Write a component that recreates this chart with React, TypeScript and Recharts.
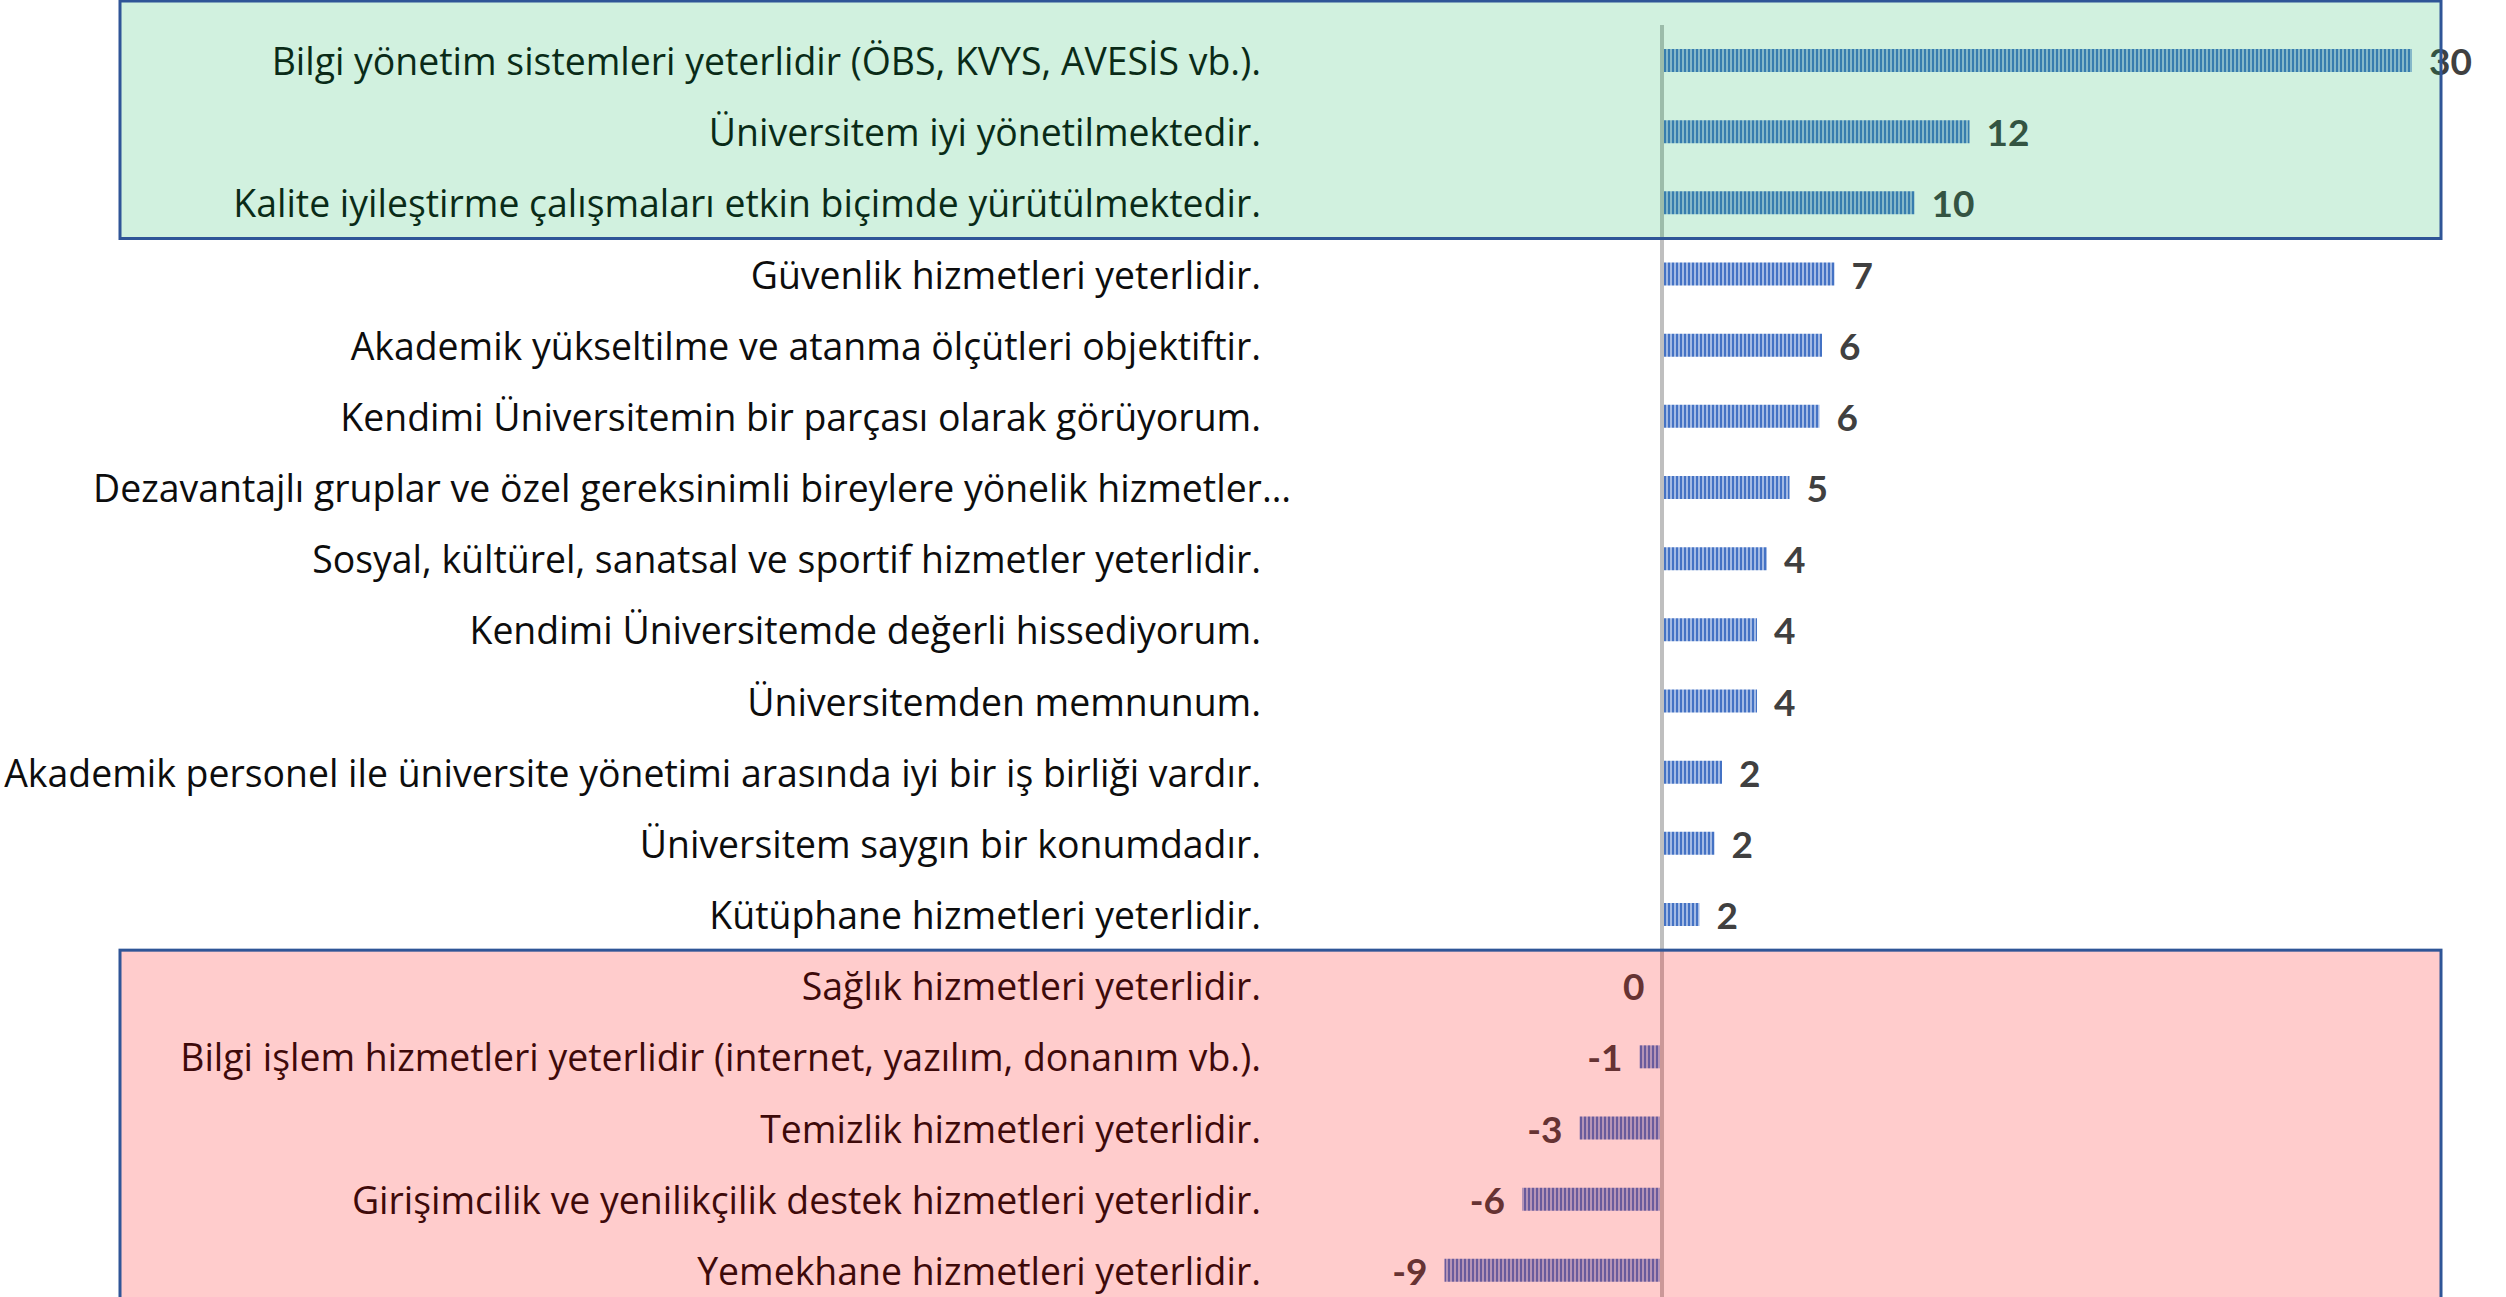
import {
  BarChart,
  Bar,
  XAxis,
  YAxis,
  ReferenceLine,
  ReferenceArea,
  LabelList,
} from 'recharts';

const categories = [
  'Bilgi yönetim sistemleri yeterlidir (ÖBS, KVYS, AVESİS vb.).',
  'Üniversitem iyi yönetilmektedir.',
  'Kalite iyileştirme çalışmaları etkin biçimde yürütülmektedir.',
  'Güvenlik hizmetleri yeterlidir.',
  'Akademik yükseltilme ve atanma ölçütleri objektiftir.',
  'Kendimi Üniversitemin bir parçası olarak görüyorum.',
  'Dezavantajlı gruplar ve özel gereksinimli bireylere yönelik hizmetler…',
  'Sosyal, kültürel, sanatsal ve sportif hizmetler yeterlidir.',
  'Kendimi Üniversitemde değerli hissediyorum.',
  'Üniversitemden memnunum.',
  'Akademik personel ile üniversite yönetimi arasında iyi bir iş birliği vardır.',
  'Üniversitem saygın bir konumdadır.',
  'Kütüphane hizmetleri yeterlidir.',
  'Sağlık hizmetleri yeterlidir.',
  'Bilgi işlem hizmetleri yeterlidir (internet, yazılım, donanım vb.).',
  'Temizlik hizmetleri yeterlidir.',
  'Girişimcilik ve yenilikçilik destek hizmetleri yeterlidir.',
  'Yemekhane hizmetleri yeterlidir.',
];

// net score per statement (labels show the rounded value)
const scores = [30.0, 12.3, 10.1, 6.9, 6.4, 6.3, 5.1, 4.2, 3.8, 3.8, 2.4, 2.1, 1.5, -0.02, -0.9, -3.3, -5.6, -8.7];

const xDomain = [-15, 30];

const data = categories.map((label, i) => ({ label, score: scores[i] }));

const LABEL_FONT = '"Open Sans", "Noto Sans", sans-serif';
const VALUE_FONT = 'Lato, "Open Sans", sans-serif';
const BOX_LEFT = 120;
const BOX_RIGHT = 2441;

const CategoryTick = ({ x, y, payload }: any) => {
  const truncated = String(payload.value).endsWith('…');
  return (
    <text
      x={x + (truncated ? 30 : 0)}
      y={y}
      textAnchor="end"
      dominantBaseline="central"
      fontFamily={LABEL_FONT}
      fontSize={37.4}
      fill="#0d0d0d"
    >
      {payload.value}
    </text>
  );
};

const ValueLabel = ({ x, y, width, height, value }: any) => {
  const v = Number(value);
  const a = x;
  const b = x + width;
  const end = v < 0 ? Math.min(a, b) : Math.max(a, b);
  const neg = v <= 0;
  const rounded = Math.round(v);
  return (
    <text
      x={neg ? end - 17 : end + 17}
      y={y + height / 2}
      textAnchor={neg ? 'end' : 'start'}
      dominantBaseline="central"
      fontFamily={VALUE_FONT}
      fontWeight={700}
      fontSize={37}
      fill="#404040"
    >
      {rounded === 0 ? '0' : String(rounded)}
    </text>
  );
};

// semi-transparent highlight box laid over the chart rows
const highlight = (fill: string, opacity: number, padTop: number) => (props: any) => (
  <rect
    x={BOX_LEFT}
    y={props.y - padTop}
    width={BOX_RIGHT - BOX_LEFT}
    height={props.height + padTop}
    fill={fill}
    fillOpacity={opacity}
    stroke="#2f5597"
    strokeWidth={3}
  />
);

export default function App() {
  return (
    <div style={{ position: 'absolute', left: 0, top: 0, width: 2506, height: 1297, overflow: 'hidden', background: '#fff' }}>
      <BarChart
        width={2506}
        height={1306}
        data={data}
        layout="vertical"
        margin={{ top: 25, right: 94, left: 0, bottom: 0 }}
        barSize={23}
      >
        <defs>
          <pattern id="stripes" width={4} height={4} patternUnits="userSpaceOnUse">
            <rect x={0} y={0} width={4} height={4} fill="#a3bae4" />
            <rect x={0} y={0} width={2} height={4} fill="#4472c4" />
          </pattern>
        </defs>
        <XAxis type="number" domain={xDomain} hide allowDataOverflow />
        <YAxis
          type="category"
          dataKey="label"
          width={1287}
          axisLine={false}
          tickLine={false}
          tickMargin={20}
          interval={0}
          tick={<CategoryTick />}
        />
        <Bar dataKey="score" fill="url(#stripes)" isAnimationActive={false}>
          <LabelList dataKey="score" content={<ValueLabel />} />
        </Bar>
        <ReferenceLine x={0} stroke="#bfbfbf" strokeWidth={4} />
        <ReferenceArea
          y1={categories[0]}
          y2={categories[2]}
          ifOverflow="visible"
          zIndex={3000}
          shape={highlight('#00b050', 0.18, 24)}
        />
        <ReferenceArea
          y1={categories[13]}
          y2={categories[17]}
          ifOverflow="visible"
          zIndex={3000}
          shape={highlight('#ff0000', 0.2, 0)}
        />
      </BarChart>
    </div>
  );
}
